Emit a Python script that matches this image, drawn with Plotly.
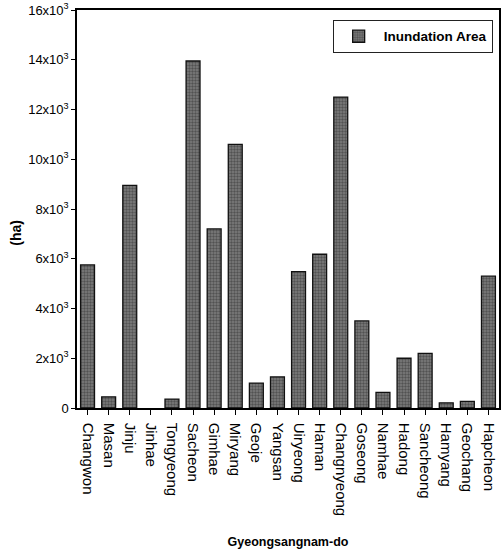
import plotly.graph_objects as go

# Inundation area by city/county in Gyeongsangnam-do (ha)
districts = ["Changwon", "Masan", "Jinju", "Jinhae", "Tongyeong", "Sacheon", "Gimhae",
             "Miryang", "Geoje", "Yangsan", "Uiryeong", "Haman", "Changnyeong", "Goseong",
             "Namhae", "Hadong", "Sancheong", "Hamyang", "Geochang", "Hapcheon"]
area_ha = [5750, 450, 8950, 0, 360, 13950, 7200, 10600, 1000, 1250, 5480, 6180,
           12500, 3500, 630, 2000, 2200, 210, 270, 5300]

ytick_vals = [0, 2000, 4000, 6000, 8000, 10000, 12000, 14000, 16000]
ytick_text = ["0"] + [f"{v // 1000}x10<sup>3</sup>" for v in ytick_vals[1:]]

font_family = "Liberation Sans, Arial, sans-serif"

# no outline on empty bars so a zero value leaves no mark
outline_widths = [1.3 if v > 0 else 0 for v in area_ha]

fig = go.Figure()
fig.add_trace(go.Bar(
    x=districts,
    y=area_ha,
    name="<b>Inundation Area</b>",
    width=0.66,
    marker=dict(
        color="#666666",
        line=dict(color="#111111", width=outline_widths),
        pattern=dict(shape=".", fgcolor="#262626", bgcolor="#7e7e7e", size=3, solidity=0.5),
    ),
))

fig.update_layout(
    width=501,
    height=554,
    margin=dict(l=77, r=0, t=10, b=146),
    paper_bgcolor="white",
    plot_bgcolor="white",
    font=dict(family=font_family, size=13, color="black"),
    showlegend=True,
    legend=dict(
        x=0.985, y=0.975, xanchor="right", yanchor="top",
        bgcolor="white", bordercolor="#222", borderwidth=1,
        font=dict(family=font_family, size=13.5, color="black"),
        itemwidth=40,
    ),
    annotations=[dict(
        text="<b>(ha)</b>", textangle=-90,
        xref="paper", yref="paper", x=-0.145, y=0.44,
        xanchor="center", yanchor="middle", showarrow=False,
        font=dict(family=font_family, size=14, color="black"),
    )],
)

fig.update_xaxes(
    type="category",
    tickangle=90,
    ticks="outside", ticklen=5, tickcolor="black",
    ticklabelstandoff=5,
    showline=True, linecolor="black", linewidth=1.5, mirror=True,
    showgrid=False,
    tickfont=dict(size=15),
    title=dict(text="<b>Gyeongsangnam-do</b>", font=dict(size=12.5), standoff=22),
)
fig.update_yaxes(
    range=[0, 16000],
    tickvals=ytick_vals, ticktext=ytick_text,
    ticks="outside", ticklen=4, tickcolor="black",
    showline=True, linecolor="black", linewidth=1.5, mirror=True,
    showgrid=False, zeroline=False,
    tickfont=dict(size=13),
)

fig.write_html("out.html")
